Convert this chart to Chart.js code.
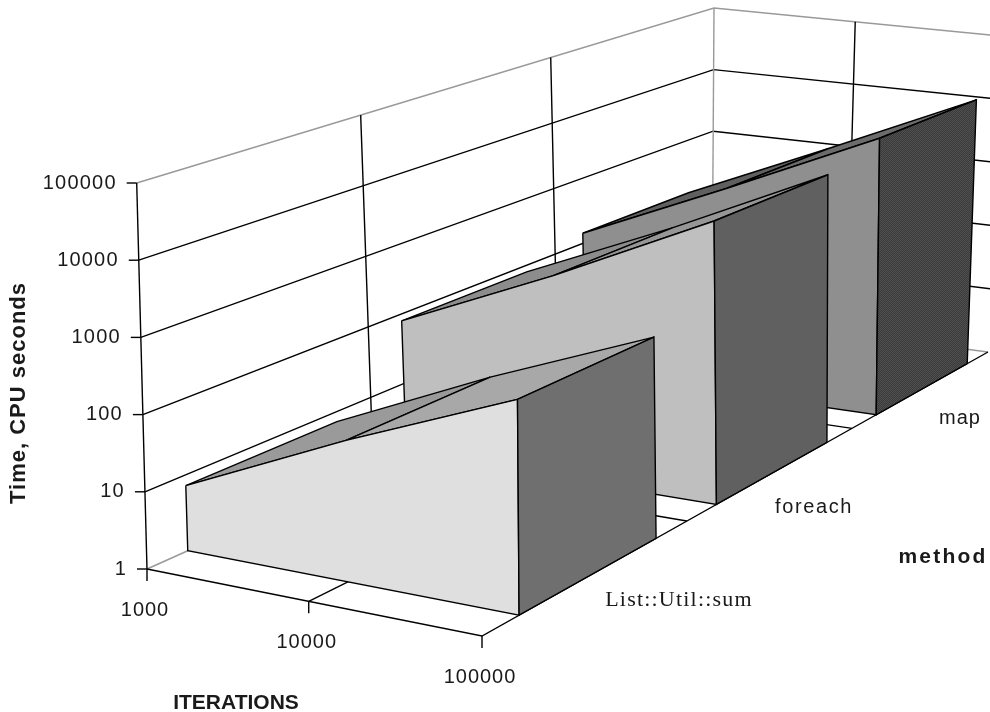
<!DOCTYPE html>
<html>
<head>
<meta charset="utf-8">
<style>
  html, body { margin: 0; background: #fff; }
  canvas { display: block; }
</style>
<script src="https://cdn.jsdelivr.net/npm/chart.js@4"></script>
</head>
<body>
<canvas id="chart" width="990" height="712"></canvas>
<script>
const iterations = ['1000', '10000', '100000'];
const methods = ['List::Util::sum', 'foreach', 'map'];
const timeTicks = [1, 10, 100, 1000, 10000, 100000];

const sumTimes = [7.2, 65, 480];
const foreachTimes = [79, 700, 7900];
const mapTimes = [142, 1300, 13500];

// box corners on screen: [front left, front right, back left, back right]
const floorCorners = [[147, 569], [482, 636], [712, 316], [988, 352]];
const topCorners = [[136.7, 183], [480, 226], [714, 8], [1001, 36]];
const depthGap = 0.165;

function quadMap(q) {
  const [p00, p10, p01, p11] = q;
  const dx1 = p10[0] - p11[0], dy1 = p10[1] - p11[1];
  const dx2 = p01[0] - p11[0], dy2 = p01[1] - p11[1];
  const sx = p00[0] - p10[0] + p11[0] - p01[0];
  const sy = p00[1] - p10[1] + p11[1] - p01[1];
  const den = dx1 * dy2 - dx2 * dy1;
  const g = (sx * dy2 - dx2 * sy) / den;
  const h = (dx1 * sy - sx * dy1) / den;
  return (u, v) => {
    const w = g * u + h * v + 1;
    return [
      ((p10[0] - p00[0] + g * p10[0]) * u + (p01[0] - p00[0] + h * p01[0]) * v + p00[0]) / w,
      ((p10[1] - p00[1] + g * p10[1]) * u + (p01[1] - p00[1] + h * p01[1]) * v + p00[1]) / w
    ];
  };
}

const floorAt = quadMap(floorCorners);
const topAt = quadMap(topCorners);
const maxDecades = Math.log10(timeTicks[timeTicks.length - 1]);

function project(u, v, time) {
  const t = Math.log10(time) / maxDecades;
  const a = floorAt(u, v), b = topAt(u, v);
  return { x: a[0] + (b[0] - a[0]) * t, y: a[1] + (b[1] - a[1]) * t };
}

const datasets = [];
function addShape(points, fill, stroke, width) {
  datasets.push({
    data: points,
    showLine: true,
    tension: 0,
    pointRadius: 0,
    borderColor: stroke,
    borderWidth: width === undefined ? 1.4 : width,
    backgroundColor: fill || 'transparent',
    fill: fill ? 'shape' : false,
    order: -datasets.length
  });
}
function addPoly(points, fill) {
  addShape(points.concat([points[0]]), fill, '#000');
}

function ditherPattern(a, b) {
  const c = document.createElement('canvas');
  c.width = c.height = 2;
  const g = c.getContext('2d');
  g.fillStyle = a;
  g.fillRect(0, 0, 2, 2);
  g.fillStyle = b;
  g.fillRect(0, 0, 1, 1);
  g.fillRect(1, 1, 1, 1);
  return g.createPattern(c, 'repeat');
}

// walls
timeTicks.forEach((t, i) => {
  const color = i === timeTicks.length - 1 || i === 0 ? '#999' : '#000';
  addShape([project(0, 0, t), project(0, 1, t), project(1, 1, t)], null, color);
});
[1 / 3, 2 / 3].forEach((v) => addShape([project(0, v, 1), project(0, v, 100000)], null, '#000'));
addShape([project(0, 1, 1), project(0, 1, 100000)], null, '#999');
addShape([project(0.5, 1, 1), project(0.5, 1, 100000)], null, '#000');
addShape([project(0, 0, 1), project(0, 0, 100000)], null, '#000');

// floor
addShape([project(0, 0, 1), project(1, 0, 1), project(1, 1, 1)], null, '#000');
addShape([project(0.5, 0, 1), project(0.5, 1, 1)], null, '#000');
[1 / 3, 2 / 3].forEach((v) => addShape([project(0, v, 1), project(1, v, 1)], null, '#000'));

// axis ticks
timeTicks.forEach((t) => {
  const p = project(0, 0, t);
  addShape([p, { x: p.x - 10, y: p.y }], null, '#000');
});
iterations.forEach((_, i) => {
  const p = project(i / 2, 0, 1);
  addShape([p, { x: p.x, y: p.y + 12 }], null, '#000');
});

// series, back to front
const seriesStyles = [
  { values: mapTimes, front: '#8f8f8f', top: ['#606060', '#6c6c6c'], side: ditherPattern('#3a3a3a', '#505050') },
  { values: foreachTimes, front: '#bfbfbf', top: ['#8c8c8c', '#969696'], side: '#606060' },
  { values: sumTimes, front: '#dfdfdf', top: ['#9a9a9a', '#a8a8a8'], side: '#6f6f6f' }
];
seriesStyles.forEach((s, k) => {
  const i = 2 - k;
  const v0 = (i + depthGap) / 3, v1 = (i + 1 - depthGap) / 3;
  const us = s.values.map((_, n) => n / (s.values.length - 1));
  for (let n = 0; n < us.length - 1; n++) {
    addPoly([
      project(us[n], v0, s.values[n]), project(us[n + 1], v0, s.values[n + 1]),
      project(us[n + 1], v1, s.values[n + 1]), project(us[n], v1, s.values[n])
    ], s.top[n]);
  }
  const frontTop = us.map((u, n) => project(u, v0, s.values[n]));
  addPoly(frontTop.concat([project(1, v0, 1), project(0, v0, 1)]), s.front);
  const last = s.values[s.values.length - 1];
  addPoly([project(1, v0, last), project(1, v1, last), project(1, v1, 1), project(1, v0, 1)], s.side);
});

const labelsPlugin = {
  id: 'labels',
  afterDraw(chart) {
    const ctx = chart.ctx;
    const text = (str, x, y, font, spacing, align) => {
      ctx.font = font;
      ctx.textAlign = align || 'center';
      ctx.letterSpacing = spacing;
      ctx.fillText(str, x, y);
    };
    const sans = '20px "Liberation Sans", Arial, sans-serif';
    ctx.save();
    ctx.fillStyle = '#1a1a1a';
    ctx.textBaseline = 'middle';
    timeTicks.forEach((t) => {
      const p = project(0, 0, t);
      text(String(t), p.x - 20, p.y, sans, '1.2px', 'right');
    });
    iterations.forEach((label, i) => {
      const p = project(i / 2, 0, 1);
      text(label, p.x - 2, p.y + 41, sans, '1px');
    });
    text(methods[0], 679, 600, '22px "Liberation Serif", "Times New Roman", serif', '1.2px');
    text(methods[1], 814, 507, sans, '1.6px');
    text(methods[2], 960, 418, sans, '1px');
    text('method', 943, 557, 'bold 21px "Liberation Sans", Arial, sans-serif', '2.2px');
    text('ITERATIONS', 236, 703, 'bold 21px "Liberation Sans", Arial, sans-serif', '0px');
    ctx.translate(19, 393);
    ctx.rotate(-Math.PI / 2);
    text('Time, CPU seconds', 0, 0, 'bold 22px "Liberation Sans", Arial, sans-serif', '1px');
    ctx.restore();
  }
};

new Chart(document.getElementById('chart').getContext('2d'), {
  type: 'scatter',
  data: { datasets: datasets },
  options: {
    responsive: false,
    animation: false,
    events: [],
    layout: { padding: 0 },
    scales: {
      x: { type: 'linear', min: 0, max: 990, display: false },
      y: { type: 'linear', min: 0, max: 712, reverse: true, display: false }
    },
    plugins: { legend: { display: false }, tooltip: { enabled: false } }
  },
  plugins: [labelsPlugin]
});
</script>
</body>
</html>
